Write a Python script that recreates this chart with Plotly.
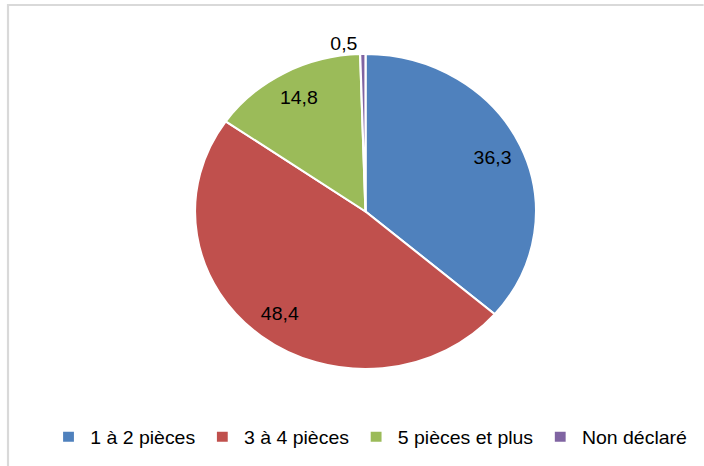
import plotly.graph_objects as go

categories = ["1 à 2 pièces", "3 à 4 pièces", "5 pièces et plus", "Non déclaré"]
values = [36.3, 48.4, 14.8, 0.5]
colors = ["#4F81BD", "#C0504D", "#9BBB59", "#8064A2"]

# The reference chart is horizontally stretched (elliptic pie), so the figure is
# drawn narrower and stretched back to 704 px wide with a CSS scale.
SX = 341 / 315
W, H = round(704 / SX), 466
cx, cy, R = 365.5 / SX, 211.5, 157.5
FONT = "Liberation Sans, Arial, sans-serif"
domain = dict(x=[(cx - R) / W, (cx + R) / W], y=[1 - (cy + R) / H, 1 - (cy - R) / H])

fig = go.Figure()
# main pie (slices + legend)
fig.add_trace(go.Pie(
    labels=categories,
    values=values,
    sort=False,
    direction="clockwise",
    rotation=0,
    marker=dict(colors=colors, line=dict(color="white", width=2)),
    textinfo="none",
    domain=domain,
    hoverinfo="label+value",
))
# transparent ring used only to position the data labels further out
fig.add_trace(go.Pie(
    labels=categories,
    values=values,
    sort=False,
    direction="clockwise",
    rotation=0,
    hole=0.64,
    marker=dict(colors=["rgba(0,0,0,0)"] * len(values), line=dict(width=0)),
    texttemplate="%{value:.1f}",
    textposition=["inside", "inside", "inside", "outside"],
    insidetextorientation="horizontal",
    textfont=dict(family=FONT, size=18, color="#000000"),
    domain=domain,
    showlegend=False,
    hoverinfo="skip",
))

fig.update_layout(
    width=W, height=H,
    margin=dict(l=0, r=0, t=0, b=0),
    paper_bgcolor="white",
    separators=", ",
    showlegend=True,
    legend=dict(
        orientation="h",
        x=(370 / SX) / W, xanchor="center",
        y=1 - 437 / H, yanchor="middle",
        font=dict(family=FONT, size=18, color="#000000"),
        itemwidth=30,
        traceorder="normal",
    ),
    shapes=[dict(
        type="rect", xref="paper", yref="paper",
        x0=(8 / SX) / W, x1=1.02, y0=-0.02, y1=1 - 5 / H,
        line=dict(color="#D9D9D9", width=2),
        fillcolor="rgba(0,0,0,0)",
    )],
)

post = (
    "document.body.style.margin='0';"
    "document.body.style.overflow='hidden';"
    "var d=document.getElementById('{plot_id}');"
    "d.style.transformOrigin='0 0';"
    "d.style.transform='scaleX(%.5f)';" % SX
)
fig.write_html("out.html", config={"displayModeBar": False}, post_script=post)
